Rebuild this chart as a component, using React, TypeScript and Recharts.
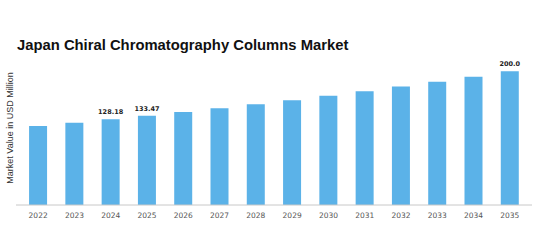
import { BarChart, Bar, XAxis, YAxis, LabelList } from 'recharts'

const years = ['2022', '2023', '2024', '2025', '2026', '2027', '2028', '2029', '2030', '2031', '2032', '2033', '2034', '2035']
const marketValues = [118.2, 123.1, 128.18, 133.47, 139.0, 144.7, 150.7, 156.9, 163.4, 170.1, 177.2, 184.5, 192.1, 200.0]
const labelledYears = ['2024', '2025', '2035']

const chartData = years.map((year, i) => ({ year, value: marketValues[i] }))

function ValueLabel(props: any) {
  const { x, y, width, value, index } = props
  if (!labelledYears.includes(years[index])) return null
  const text = Number.isInteger(value) ? value.toFixed(1) : String(value)
  return (
    <text
      x={x + width / 2}
      y={y - 5}
      textAnchor="middle"
      fontSize={6.5}
      fontWeight="bold"
      fontFamily="DejaVu Sans"
      fill="#222"
    >
      {text}
    </text>
  )
}

export default function App() {
  return (
    <div style={{ position: 'absolute', left: 0, top: 0, width: 547, height: 247, background: '#fff' }}>
      <div
        style={{
          position: 'absolute',
          left: 17,
          top: 36,
          fontFamily: '"Liberation Sans", Arial, sans-serif',
          fontWeight: 'bold',
          fontSize: 14.8,
          lineHeight: '18px',
          color: '#111',
          whiteSpace: 'nowrap',
        }}
      >
        Japan Chiral Chromatography Columns Market
      </div>
      <div
        style={{
          position: 'absolute',
          left: 10,
          top: 128,
          transform: 'translate(-50%, -50%) rotate(-90deg)',
          fontFamily: '"Liberation Sans", Arial, sans-serif',
          fontSize: 9,
          color: '#333',
          whiteSpace: 'nowrap',
        }}
      >
        Market Value in USD Million
      </div>
      <div style={{ position: 'absolute', left: 0, top: 0 }}>
        <BarChart
          width={547}
          height={247}
          data={chartData}
          margin={{ top: 58, right: 15, bottom: 22, left: 16 }}
          barCategoryGap="25%"
        >
          <XAxis
            dataKey="year"
            height={20}
            padding={{ left: 4, right: 4 }}
            axisLine={{ stroke: '#c8c8c8' }}
            tickLine={false}
            tick={{ fontSize: 7.5, fill: '#555', fontFamily: 'DejaVu Sans' }}
            interval={0}
          />
          <YAxis hide domain={[0, 220]} />
          <Bar dataKey="value" fill="#5BB2E8" isAnimationActive={false}>
            <LabelList dataKey="value" content={<ValueLabel />} />
          </Bar>
        </BarChart>
      </div>
    </div>
  )
}
